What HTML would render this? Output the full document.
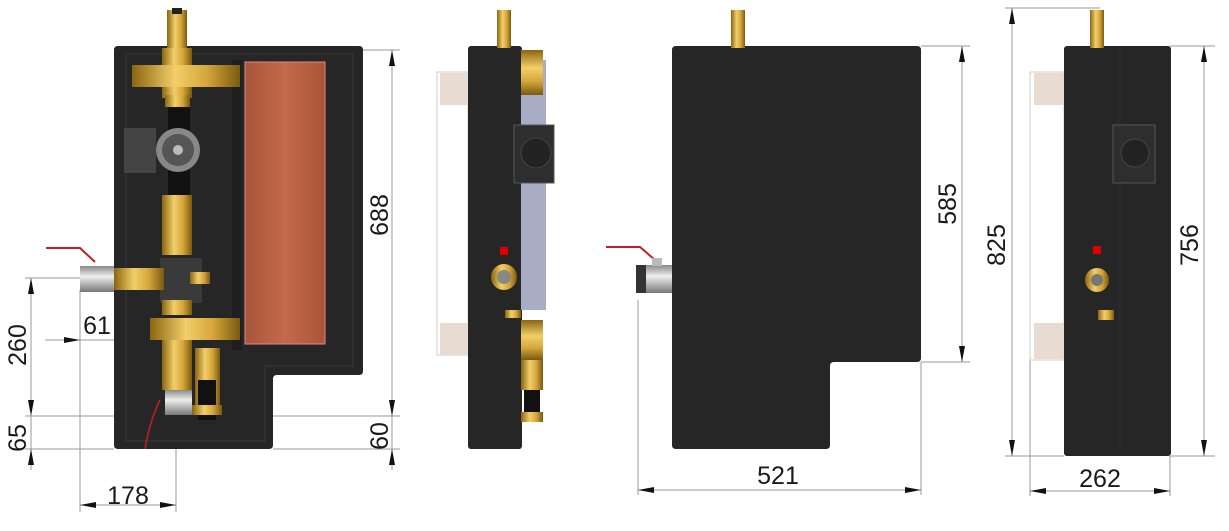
<!DOCTYPE html>
<html><head><meta charset="utf-8"><style>
html,body{margin:0;padding:0;background:#fff;}
svg{display:block}
text{font-family:"Liberation Sans",sans-serif;font-size:25px;fill:#1a1a1a}
</style></head><body>
<svg width="1229" height="531" viewBox="0 0 1229 531" xmlns="http://www.w3.org/2000/svg">
<defs>
<linearGradient id="br" x1="0" x2="1"><stop offset="0" stop-color="#8a6510"/><stop offset=".4" stop-color="#f2cf6a"/><stop offset=".7" stop-color="#d4a53a"/><stop offset="1" stop-color="#7a5a10"/></linearGradient>
<linearGradient id="brv" x1="0" y1="0" x2="0" y2="1"><stop offset="0" stop-color="#8a6510"/><stop offset=".4" stop-color="#f2cf6a"/><stop offset=".7" stop-color="#d4a53a"/><stop offset="1" stop-color="#7a5a10"/></linearGradient>
<linearGradient id="ch" x1="0" y1="0" x2="0" y2="1"><stop offset="0" stop-color="#888"/><stop offset=".4" stop-color="#eee"/><stop offset="1" stop-color="#777"/></linearGradient>
<linearGradient id="cu" x1="0" x2="1"><stop offset="0" stop-color="#a9553a"/><stop offset=".5" stop-color="#c4694b"/><stop offset="1" stop-color="#a9553a"/></linearGradient>
</defs>
<g stroke="#999" stroke-width="1" fill="none">
<!-- view1 dims -->
<line x1="363" y1="50" x2="400" y2="50"/><line x1="273" y1="416" x2="400" y2="416"/><line x1="273" y1="449" x2="400" y2="449"/>
<line x1="392" y1="50" x2="392" y2="470"/>
<line x1="25" y1="278" x2="82" y2="278"/><line x1="25" y1="416" x2="273" y2="416"/><line x1="25" y1="449" x2="114" y2="449"/>
<line x1="31" y1="278" x2="31" y2="470"/>
<line x1="80" y1="290" x2="80" y2="512"/><line x1="176" y1="449" x2="176" y2="512"/>
<line x1="80" y1="505" x2="176" y2="505"/>
<line x1="45" y1="340" x2="130" y2="340"/>
<!-- view3 dims -->
<line x1="921" y1="46" x2="970" y2="46"/><line x1="921" y1="362" x2="970" y2="362"/>
<line x1="962" y1="46" x2="962" y2="362"/>
<line x1="638" y1="300" x2="638" y2="495"/><line x1="921" y1="362" x2="921" y2="495"/>
<line x1="638" y1="490" x2="921" y2="490"/>
<!-- view4 dims -->
<line x1="1005" y1="8" x2="1100" y2="8"/><line x1="1005" y1="456" x2="1064" y2="456"/>
<line x1="1012" y1="8" x2="1012" y2="456"/>
<line x1="1170" y1="46" x2="1215" y2="46"/><line x1="1170" y1="456" x2="1215" y2="456"/>
<line x1="1204" y1="46" x2="1204" y2="456"/>
<line x1="1030" y1="360" x2="1030" y2="496"/><line x1="1170" y1="456" x2="1170" y2="496"/>
<line x1="1030" y1="491" x2="1170" y2="491"/>
</g>
<g fill="#111">
<!-- arrowheads -->
<path d="M392,50 l-3,16 h6z"/><path d="M392,416 l-3,-16 h6z"/><path d="M392,449 l-3,16 h6z"/>
<path d="M31,278 l-3,16 h6z"/><path d="M31,416 l-3,-16 h6z"/><path d="M31,449 l-3,16 h6z"/>
<path d="M80,505 l16,-3 v6z"/><path d="M176,505 l-16,-3 v6z"/>
<path d="M80,340 l-16,-3 v6z"/><path d="M114,340 l16,-3 v6z"/>
<path d="M962,46 l-3,16 h6z"/><path d="M962,362 l-3,-16 h6z"/>
<path d="M638,490 l16,-3 v6z"/><path d="M921,490 l-16,-3 v6z"/>
<path d="M1012,8 l-3,16 h6z"/><path d="M1012,456 l-3,-16 h6z"/>
<path d="M1204,46 l-3,16 h6z"/><path d="M1204,456 l-3,-16 h6z"/>
<path d="M1030,491 l16,-3 v6z"/><path d="M1170,491 l-16,-3 v6z"/>
</g>
<!-- VIEW 1 -->
<path d="M118,46 H359 Q363,46 363,50 V371 Q363,375 359,375 H277 Q273,375 273,379 V445 Q273,449 269,449 H118 Q114,449 114,445 V50 Q114,46 118,46Z" fill="#262626"/>
<path d="M126,54 H353 V366 H265 V441 H126Z" fill="none" stroke="#3a3a3a"/>
<rect x="245" y="62" width="80" height="282" fill="url(#cu)" stroke="#d88" stroke-width="1"/>
<rect x="232" y="60" width="10" height="290" fill="#1e1e1e"/>
<!-- brass parts -->
<rect x="167" y="10" width="20" height="40" fill="url(#br)"/>
<rect x="172" y="8" width="10" height="6" fill="#222"/>
<rect x="162" y="48" width="30" height="50" fill="url(#br)"/>
<rect x="132" y="65" width="108" height="22" fill="url(#br)"/>
<rect x="165" y="95" width="25" height="12" fill="url(#br)"/>
<rect x="168" y="107" width="22" height="90" fill="#111"/>
<rect x="124" y="128" width="32" height="45" fill="#444"/>
<circle cx="178" cy="150" r="22" fill="#888"/><circle cx="178" cy="150" r="16" fill="#555"/><circle cx="178" cy="150" r="5" fill="#bbb"/>
<rect x="162" y="195" width="30" height="60" fill="url(#br)"/>
<rect x="160" y="258" width="42" height="45" fill="#3a3a3a"/>
<rect x="114" y="268" width="50" height="22" fill="url(#br)"/>
<rect x="80" y="266" width="34" height="26" fill="url(#ch)"/>
<path d="M46,248 H80 L95,262" stroke="#c02020" stroke-width="2" fill="none"/>
<rect x="190" y="272" width="20" height="12" fill="url(#br)"/>
<rect x="162" y="300" width="30" height="15" fill="url(#br)"/>
<rect x="150" y="318" width="90" height="22" fill="url(#br)"/>
<rect x="162" y="340" width="30" height="50" fill="url(#br)"/>
<rect x="195" y="348" width="25" height="60" fill="url(#br)"/>
<rect x="198" y="380" width="18" height="40" fill="#111"/>
<rect x="192" y="405" width="30" height="10" fill="url(#br)"/>
<rect x="165" y="390" width="27" height="25" fill="url(#ch)"/>
<path d="M160,400 Q150,420 145,449" stroke="#c02020" stroke-width="1.5" fill="none"/>
<!-- VIEW 2 -->
<rect x="437" y="72" width="31" height="283" fill="none" stroke="#ccc"/>
<rect x="440" y="73" width="28" height="32" fill="#e8dcd2"/>
<rect x="440" y="323" width="28" height="32" fill="#e8dcd2"/>
<rect x="468" y="46" width="54" height="403" rx="3" fill="#262626"/>
<rect x="497" y="10" width="14" height="38" fill="url(#br)"/>
<rect x="521" y="60" width="25" height="250" fill="#a8acc4"/>
<rect x="521" y="50" width="22" height="45" fill="url(#brv)"/>
<rect x="514" y="125" width="40" height="58" fill="#2e2e2e" stroke="#555"/>
<circle cx="536" cy="153" r="15" fill="#222" stroke="#444"/>
<rect x="500" y="247" width="8" height="8" fill="#d00"/>
<circle cx="504" cy="277" r="13" fill="url(#br)"/><circle cx="504" cy="277" r="7" fill="#888"/>
<rect x="521" y="320" width="22" height="40" fill="url(#brv)"/>
<rect x="521" y="360" width="22" height="30" fill="url(#br)"/>
<rect x="524" y="390" width="16" height="25" fill="#111"/>
<rect x="521" y="412" width="22" height="10" fill="url(#br)"/>
<rect x="505" y="310" width="16" height="8" fill="url(#br)"/>
<!-- VIEW 3 -->
<path d="M676,46 H917 Q921,46 921,50 V358 Q921,362 917,362 H834 Q830,362 830,366 V445 Q830,449 826,449 H676 Q672,449 672,445 V50 Q672,46 676,46Z" fill="#262626"/>
<rect x="731" y="10" width="14" height="38" fill="url(#br)"/>
<rect x="636" y="265" width="36" height="28" fill="url(#ch)"/>
<rect x="636" y="265" width="10" height="28" fill="#333"/>
<path d="M606,247 H640 L655,260" stroke="#c02020" stroke-width="2" fill="none"/>
<rect x="652" y="258" width="10" height="8" fill="#bbb"/>
<!-- VIEW 4 -->
<rect x="1030" y="72" width="34" height="288" fill="none" stroke="#ccc"/>
<rect x="1034" y="73" width="30" height="32" fill="#e8dcd2"/>
<rect x="1034" y="323" width="30" height="36" fill="#e8dcd2"/>
<rect x="1064" y="46" width="107" height="410" rx="3" fill="#262626"/>
<line x1="1120" y1="50" x2="1120" y2="452" stroke="#333"/>
<rect x="1090" y="10" width="14" height="38" fill="url(#br)"/>
<rect x="1113" y="125" width="42" height="58" fill="#2e2e2e" stroke="#555"/>
<circle cx="1135" cy="153" r="14" fill="#222" stroke="#444"/>
<rect x="1093" y="246" width="8" height="8" fill="#d00"/>
<circle cx="1097" cy="280" r="12" fill="url(#br)"/><circle cx="1097" cy="280" r="6" fill="#777"/>
<rect x="1098" y="310" width="16" height="10" fill="url(#br)"/>
<!-- labels -->
<text transform="translate(388,215) rotate(-90)" text-anchor="middle">688</text>
<text transform="translate(388,436) rotate(-90)" text-anchor="middle">60</text>
<text transform="translate(26,345) rotate(-90)" text-anchor="middle">260</text>
<text transform="translate(26,438) rotate(-90)" text-anchor="middle">65</text>
<text x="97" y="334" text-anchor="middle">61</text>
<text x="128" y="504" text-anchor="middle">178</text>
<text transform="translate(956,204) rotate(-90)" text-anchor="middle">585</text>
<text x="778" y="484" text-anchor="middle">521</text>
<text transform="translate(1005,245) rotate(-90)" text-anchor="middle">825</text>
<text transform="translate(1198,245) rotate(-90)" text-anchor="middle">756</text>
<text x="1100" y="487" text-anchor="middle">262</text>
</svg>
</body></html>
